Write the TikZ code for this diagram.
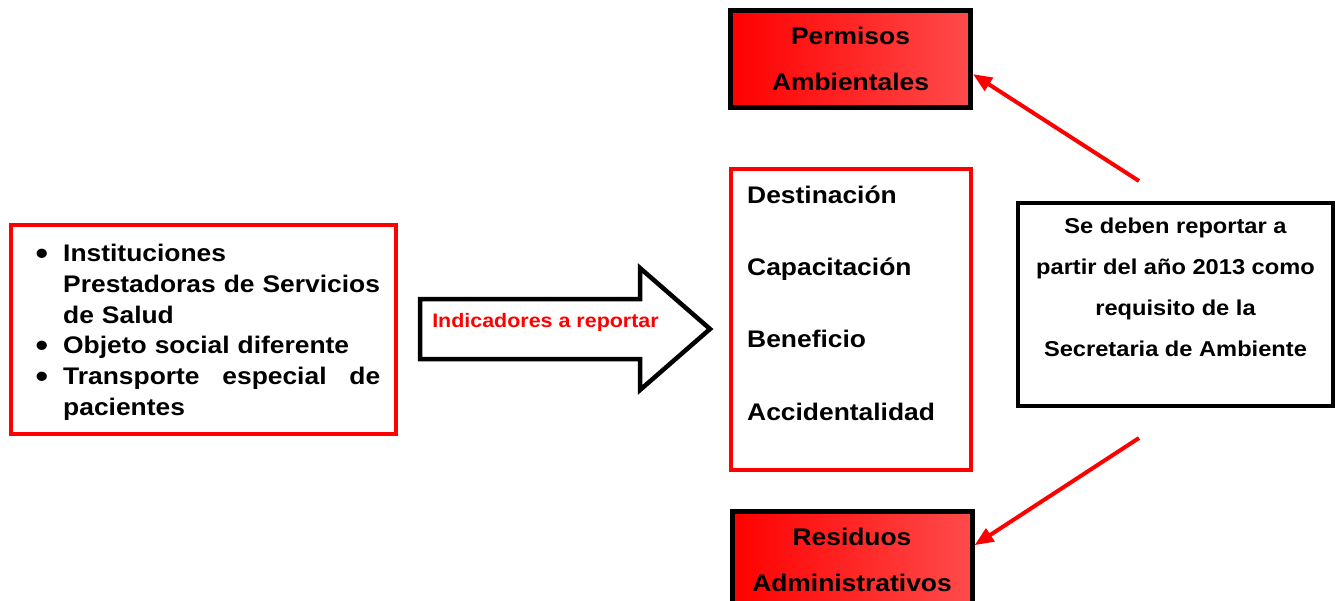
\documentclass[tikz,border=0pt]{standalone}
\usepackage{fontspec}
\setmainfont{Liberation Sans}[FakeStretch=1.1]
\usepackage{tikz}
\usetikzlibrary{arrows.meta,%
                shapes,positioning}
\definecolor{rojoclaro}{RGB}{255,75,75}
\newcommand{\vineta}{\noindent\llap{\raisebox{-3pt}{\scalebox{1.35}{\textbullet}}\hspace{15pt}}}
\tikzset{
  marcorojo/.style={draw=red, line width=4pt, inner sep=0pt},
  marconegro/.style={draw=black, line width=4.5pt, inner sep=0pt},
  cajaroja/.style={draw=black, line width=5pt, inner sep=0pt, left color=red, right color=rojoclaro,
    minimum width=240pt, minimum height=96.8pt, align=center,
    font=\bfseries\fontsize{24}{45.8}\selectfont},
  texto/.style={inner sep=0pt, font=\bfseries\fontsize{24}{28}\selectfont},
  flecharoja/.style={draw=red, line width=4pt, -{Triangle[length=19pt,width=15pt]}},
  bloque/.style={draw=black, line width=4.5pt, line join=miter, fill=white}
}

\begin{document}
\begin{tikzpicture}[x=1pt,y=-1pt]
\path[use as bounding box, fill=white] (0,0) rectangle (1341,600);
% prestadores
\node[marcorojo, minimum width=385pt, minimum height=209pt] (prestadores) at (203.5,329.5) {};
\node[texto, anchor=north west, text width=317pt, align=left,
      font=\bfseries\fontsize{24}{30.8}\selectfont] (lista) at (63,244)
  {\vineta Instituciones\\
   \noindent Prestadoras de Servicios\\
   \noindent de Salud\\
   \vineta Objeto social diferente\\
   \vineta\hbox to 317pt{Transporte\hfill especial\hfill de}\\
   \noindent pacientes};
% flecha grande
\draw[bloque] (420,299) -- (640,299) -- (640,268) -- (710,329) -- (640,390) -- (640,359) -- (420,359) -- cycle;
\node[texto, text=red, anchor=base, font=\bfseries\fontsize{19.5}{22}\selectfont] (reportar) at (545.5,327.3) {Indicadores a reportar};
% indicadores
\node[marcorojo, minimum width=240pt, minimum height=301pt] (indicadores) at (851,319.5) {};
\node[texto, anchor=base west] (destinacion) at (747,203) {Destinación};
\node[texto, anchor=base west] (capacitacion) at (747,275.3) {Capacitación};
\node[texto, anchor=base west] (beneficio) at (747,347.6) {Beneficio};
\node[texto, anchor=base west] (accidentalidad) at (747,420) {Accidentalidad};
% cajas rojas
\node[cajaroja] (permisos) at (850.5,59.1) {Permisos\\Ambientales};
\node[cajaroja] (residuos) at (852,560.2) {Residuos\\Administrativos};
% secretaria
\node[marconegro, minimum width=315pt, minimum height=203pt] (secretaria) at (1175.5,304.5) {};
\node[texto, align=center, font=\bfseries\fontsize{21.5}{40.7}\selectfont] (requisito) at (1175.5,287.3)
  {Se deben reportar a\\partir del año 2013 como\\requisito de la\\Secretaria de Ambiente};
% flechas rojas
\coordinate (desde1) at (1139,181);
\coordinate (desde2) at (1139,438);
\draw[flecharoja] (desde1) -- ([yshift=-15pt]permisos.east);
\draw[flecharoja] (desde2) -- ([yshift=15pt]residuos.east);
\end{tikzpicture}
\end{document}
